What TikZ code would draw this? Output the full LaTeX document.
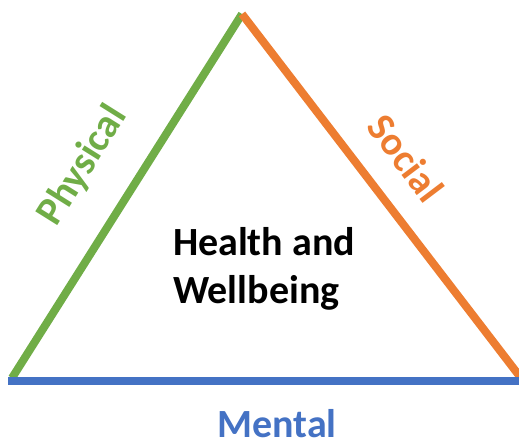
\documentclass[tikz,border=0pt]{standalone}
\usepackage{fontspec}
\setmainfont{Carlito}
\definecolor{physgreen}{HTML}{70AD47}
\definecolor{socorange}{HTML}{ED7D31}
\definecolor{mentblue}{HTML}{4472C4}
\tikzset{
  side/.style={line width=8pt},
  sidelabel/.style={font=\fontsize{40}{44}\selectfont\bfseries}
}
\begin{document}
\begin{tikzpicture}[x=1pt,y=-1pt]
  \useasboundingbox (0,0) rectangle (519,445);

  % Corners of the triangle
  \coordinate (L) at (12,378);
  \coordinate (R) at (521,378);
  \coordinate (T) at (242,14);

  % Sides
  \draw[side,physgreen] (L) -- (T);
  \draw[side,socorange] (T) -- (R);
  \draw[side,mentblue] (8,381) coordinate (BL) -- (BL -| R) coordinate (BR);

  % Labels along the sides
  \node[sidelabel,physgreen,rotate=57.9] (phys) at (83,166) {Physical};
  \node[sidelabel,socorange,rotate=-52.9] (soc) at (406,158) {Social};
  \node[sidelabel,mentblue,inner sep=0pt] (ment) at (277,424) {Mental};

  % Centre text
  \node[sidelabel,black,align=left,font=\fontsize{40}{48}\selectfont\bfseries] (hw) at (264,269) {Health and\\Wellbeing};
\end{tikzpicture}
\end{document}
